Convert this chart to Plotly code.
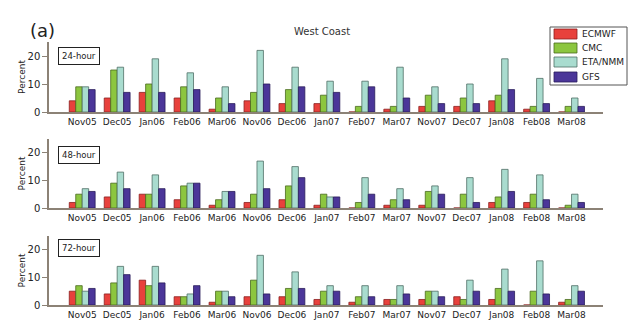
import plotly.graph_objects as go

months = ["Nov05", "Dec05", "Jan06", "Feb06", "Mar06", "Nov06", "Dec06", "Jan07",
          "Feb07", "Mar07", "Nov07", "Dec07", "Jan08", "Feb08", "Mar08"]
models = ["ECMWF", "CMC", "ETA/NMM", "GFS"]
colors = ["#e8413c", "#8cc63f", "#a9dccf", "#4b3699"]
edges = ["#8a2020", "#4a6a20", "#4f6f66", "#2a1d5a"]
panels = ["24-hour", "48-hour", "72-hour"]

h24_ecmwf = [4, 5, 7, 5, 1, 4, 3, 3, 0, 1, 2, 2, 4, 1, 0]
h24_cmc   = [9, 15, 10, 9, 5, 7, 8, 6, 2, 2, 6, 5, 6, 2, 2]
h24_eta   = [9, 16, 19, 14, 9, 22, 16, 11, 11, 16, 9, 10, 19, 12, 5]
h24_gfs   = [8, 7, 7, 8, 3, 10, 9, 7, 9, 5, 3, 3, 8, 3, 2]

h48_ecmwf = [2, 4, 5, 3, 1, 2, 3, 1, 0, 1, 1, 0, 2, 2, 0]
h48_cmc   = [5, 9, 5, 8, 3, 5, 8, 5, 2, 3, 6, 5, 4, 5, 1]
h48_eta   = [7, 13, 12, 9, 6, 17, 15, 4, 11, 7, 8, 11, 14, 12, 5]
h48_gfs   = [6, 7, 7, 9, 6, 7, 11, 4, 5, 3, 5, 2, 6, 3, 2]

h72_ecmwf = [5, 4, 9, 3, 1, 3, 3, 2, 1, 2, 2, 3, 2, 0, 1]
h72_cmc   = [7, 8, 7, 3, 5, 9, 6, 5, 3, 2, 5, 2, 6, 5, 2]
h72_eta   = [5, 14, 14, 4, 5, 18, 12, 7, 7, 7, 5, 9, 13, 16, 7]
h72_gfs   = [6, 11, 8, 7, 3, 4, 6, 5, 3, 4, 3, 5, 5, 4, 5]

data = [
    [h24_ecmwf, h24_cmc, h24_eta, h24_gfs],
    [h48_ecmwf, h48_cmc, h48_eta, h48_gfs],
    [h72_ecmwf, h72_cmc, h72_eta, h72_gfs],
]

W, H = 640, 333
ml, mr, mt, mb = 49, 37, 42, 28
pw = W - ml - mr
ph = H - mt - mb
def py(pix):
    return (H - mb - pix) / ph
def px(pix):
    return (pix - ml) / pw

domains = [[py(112), 1.0], [py(208), py(139)], [0.0, py(236)]]

fig = go.Figure()
font = "DejaVu Sans, Verdana, sans-serif"
for p in range(3):
    sfx = "" if p == 0 else str(p + 1)
    for m in range(4):
        fig.add_trace(go.Bar(
            x=months, y=data[p][m], name=models[m],
            marker=dict(color=colors[m], line=dict(color=edges[m], width=0.8)),
            xaxis="x" + sfx, yaxis="y" + sfx,
            legendgroup=models[m], showlegend=False,
        ))
    fig.layout["xaxis" + sfx] = dict(
        domain=[0, 1], anchor="y" + sfx, type="category",
        range=[-0.95, 14.9], showgrid=False, zeroline=False,
        showline=True, linecolor="#8c8276", linewidth=1.5,
        ticks="", tickfont=dict(size=9, color="#222", family=font),
    )
    fig.layout["yaxis" + sfx] = dict(
        domain=domains[p], anchor="x" + sfx, range=[0, 25],
        tickvals=[0, 10, 20], showgrid=False, zeroline=False,
        showline=True, linecolor="#8c8276", linewidth=1.5,
        ticks="outside", ticklen=5, tickcolor="#8c8276",
        tickfont=dict(size=10, color="#222", family=font),
        title=dict(text="Percent", font=dict(size=9, color="#222", family=font), standoff=0),
    )

annos = [
    dict(text="West Coast", x=px(322), y=py(32), xref="paper", yref="paper",
         xanchor="center", yanchor="middle",
         showarrow=False, font=dict(size=10, color="#333", family=font)),
    dict(text="(a)", x=px(42), y=py(30), xref="paper", yref="paper",
         xanchor="center", yanchor="middle",
         showarrow=False, font=dict(size=18, color="#222", family=font)),
]
tops = [47, 146, 239]
for p in range(3):
    annos.append(dict(text=panels[p], x=px(58), y=py(tops[p]),
                      xref="paper", yref="paper", xanchor="left", yanchor="top",
                      showarrow=False, bordercolor="#222", borderwidth=1, borderpad=3,
                      bgcolor="white", font=dict(size=8.5, color="#222", family=font)))

# legend box drawn in paper coordinates
shapes = [dict(type="rect", xref="paper", yref="paper",
               x0=px(550), x1=px(627), y0=py(85), y1=py(27),
               line=dict(color="#555", width=1), fillcolor="white", layer="above")]
rows = [34, 48, 62, 77]
for m in range(4):
    shapes.append(dict(type="rect", xref="paper", yref="paper",
                       x0=px(554), x1=px(577), y0=py(rows[m] + 5), y1=py(rows[m] - 5),
                       line=dict(color=edges[m], width=0.8), fillcolor=colors[m], layer="above"))
    annos.append(dict(text=models[m], x=px(580), y=py(rows[m]), xref="paper", yref="paper",
                      xanchor="left", yanchor="middle", showarrow=False,
                      font=dict(size=9, color="#222", family=font)))

fig.update_layout(
    width=W, height=H, margin=dict(l=ml, r=mr, t=mt, b=mb),
    paper_bgcolor="white", plot_bgcolor="white",
    barmode="group", bargap=0.26, bargroupgap=0,
    annotations=annos, shapes=shapes,
    showlegend=False,
)

fig.write_html("out.html")
